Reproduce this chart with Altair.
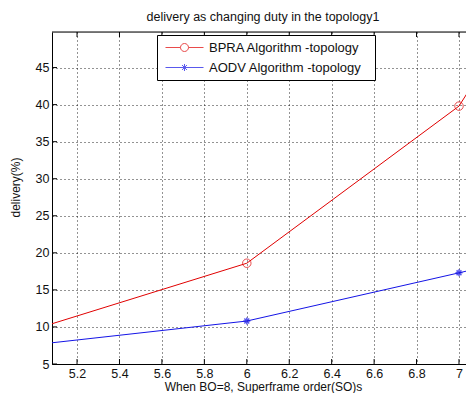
import altair as alt
import pandas as pd

# ---- data ----
so = [5, 6, 7, 8]
bpra = [9.7, 18.6, 39.8, 85.0]
aodv = [7.6, 10.8, 17.3, 24.0]
series_names = ["BPRA Algorithm -topology", "AODV Algorithm -topology"]
x_ticks = [5.2, 5.4, 5.6, 5.8, 6.0, 6.2, 6.4, 6.6, 6.8, 7.0]
y_ticks = [5, 10, 15, 20, 25, 30, 35, 40, 45]
x_domain = [5.082, 7.033]
y_domain = [5, 49.8]

title_text = "delivery as changing duty in the topology1"
x_title = "When BO=8, Superframe order(SO)s"
y_title = "delivery(%)"

# ---- styles ----
W, H = 414, 332
FONT = "Liberation Sans"
FS = 12.5
TXT = "#111111"
colors = ["#e00000", "#1414e6"]
leg_paths = [
    "M-0.767,0H-0.07M0.302,0H1M0.302,0A0.186,0.186 0 1 1 -0.07,0A0.186,0.186 0 1 1 0.302,0",
    "M-0.767,0H1M0.116,-0.163V0.163M0.001,-0.115L0.231,0.115M0.001,0.115L0.231,-0.115",
]
star_path = "M-1,0H1M0,-1V1M-0.7,-0.7L0.7,0.7M-0.7,0.7L0.7,-0.7"

df = pd.DataFrame({
    "so": so * 2,
    "delivery": bpra + aodv,
    "series": [series_names[0]] * len(so) + [series_names[1]] * len(so),
})
xt_df = pd.DataFrame({"xt": x_ticks})
yt_df = pd.DataFrame({"yt": y_ticks})
one_df = pd.DataFrame({"k": [0]})

xs = alt.Scale(domain=x_domain, nice=False, zero=False)
ys = alt.Scale(domain=y_domain, nice=False, zero=False)

xaxis = alt.Axis(values=x_ticks, format=".1~f", title=x_title, grid=True,
                 gridDash=[1, 3], gridColor="#000000", gridOpacity=0.85,
                 ticks=False, tickSize=0, domainColor="#000000", labelPadding=3,
                 labelFont=FONT, labelFontSize=FS, labelColor=TXT, labelFlush=False,
                 labelOverlap=False, titleFont=FONT, titleFontSize=12,
                 titleFontWeight="normal", titleColor=TXT, titleX=(474 - 52) / 2,
                 titleY=26, titleBaseline="alphabetic", titleAlign="center")
yaxis = alt.Axis(values=y_ticks, title=y_title, grid=True,
                 gridDash=[1, 3], gridColor="#000000", gridOpacity=0.85,
                 ticks=False, tickSize=0, domainColor="#000000", labelPadding=3,
                 labelFont=FONT, labelFontSize=FS, labelColor=TXT, labelFlush=False,
                 labelOverlap=False, titleFont=FONT, titleFontSize=FS - 0.5,
                 titleFontWeight="normal", titleColor=TXT, titleX=-37, titleY=155,
                 titleBaseline="middle", titleAlign="center", titleAngle=270)

legend = alt.Legend(title=None, orient="none", legendX=105, legendY=3,
                    direction="vertical", symbolSize=1849, clipHeight=19,
                    rowPadding=1, padding=3, labelOffset=5, strokeColor="#000000",
                    fillColor="white", labelFont=FONT, labelFontSize=13,
                    labelColor=TXT, labelLimit=300,
                    labelExpr="datum.label + '\u2800'",
                    symbolStrokeWidth=1, cornerRadius=0)

color = alt.Color("series:N", scale=alt.Scale(domain=series_names, range=colors),
                  legend=legend)
shape = alt.Shape("series:N", scale=alt.Scale(domain=series_names, range=leg_paths),
                  legend=legend)

X = alt.X("so:Q", scale=xs, axis=xaxis)
Y = alt.Y("delivery:Q", scale=ys, axis=yaxis)

base = alt.Chart(df)

lines = base.mark_line(strokeWidth=1, clip=True).encode(x=X, y=Y, color=color)
legend_layer = base.mark_point(size=0, filled=False, clip=True).encode(
    x=X, y=Y, color=color, shape=shape)
red_pts = base.transform_filter(alt.datum.series == series_names[0]).mark_point(
    shape="circle", size=72, filled=False, color=colors[0], strokeWidth=1, clip=True
).encode(x=X, y=Y)
blue_pts = base.transform_filter(alt.datum.series == series_names[1]).mark_point(
    shape=star_path, size=49, filled=False, color=colors[1], strokeWidth=1.5, clip=True
).encode(x=X, y=Y)

top_frame = alt.Chart(one_df).mark_rule(color="#000000", strokeWidth=1).encode(
    x=alt.value(0), x2=alt.value(W), y=alt.value(0))
xt_top = alt.Chart(xt_df).mark_rule(color="#000000").encode(
    x=alt.X("xt:Q", scale=xs, axis=xaxis), y=alt.value(0), y2=alt.value(5))
xt_bot = alt.Chart(xt_df).mark_rule(color="#000000").encode(
    x=alt.X("xt:Q", scale=xs, axis=xaxis), y=alt.value(H), y2=alt.value(H - 5))
yt_left = alt.Chart(yt_df).mark_rule(color="#000000").encode(
    y=alt.Y("yt:Q", scale=ys, axis=yaxis), x=alt.value(0), x2=alt.value(5))

chart = alt.layer(
    lines, legend_layer, red_pts, blue_pts, top_frame, xt_top, xt_bot, yt_left
).properties(
    width=W, height=H,
    title=alt.TitleParams(text=title_text, font=FONT, fontSize=FS, fontWeight="normal",
                          color=TXT, offset=8, anchor="middle", dx=4),
    autosize=alt.AutoSizeParams(type="none"),
    padding={"left": 44, "top": 24, "right": 0, "bottom": 29},
).configure_view(stroke=None).configure(background="white")

chart.save("out.html", embed_options={"renderer": "svg", "actions": False})
